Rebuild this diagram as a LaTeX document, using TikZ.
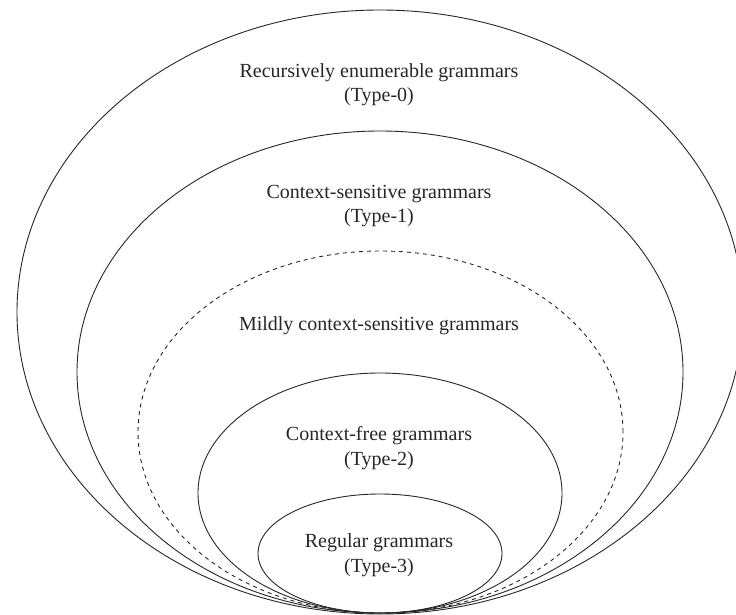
\documentclass[tikz,border=0pt]{standalone}
\usepackage{fontspec}
\setmainfont{Liberation Serif}
\begin{document}
\begin{tikzpicture}[x=1pt,y=-1pt,
  ring/.style={draw=black!85,line width=0.9pt},
  dashring/.style={ring,dash pattern=on 4pt off 4pt},
  lbl/.style={font=\fontsize{20}{24.5}\selectfont,align=center,inner sep=0pt,text=black!85}]
\useasboundingbox (0,0) rectangle (736,615);
\draw[ring] (380,312) ellipse [x radius=363pt, y radius=302pt];
\draw[ring] (380,372) ellipse [x radius=303pt, y radius=241pt];
\draw[dashring] (380.5,432) ellipse [x radius=242.5pt, y radius=181pt];
\draw[ring] (380,493) ellipse [x radius=182pt, y radius=120pt];
\draw[ring] (380,553.5) ellipse [x radius=122pt, y radius=59.5pt];
\node[lbl] (re) at (379,84.5) {Recursively enumerable grammars\\(Type-0)};
\node[lbl] (cs) at (379,206) {Context-sensitive grammars\\(Type-1)};
\node[lbl] (mcs) at (379,326) {Mildly context-sensitive grammars};
\node[lbl] (cf) at (379,448) {Context-free grammars\\(Type-2)};
\node[lbl] (rg) at (379,555) {Regular grammars\\(Type-3)};
\end{tikzpicture}
\end{document}
